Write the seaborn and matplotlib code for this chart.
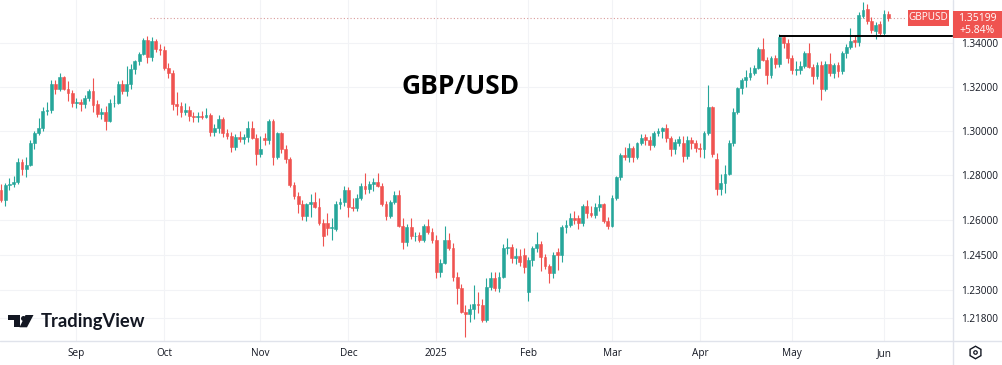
#
# GBP/USD daily candles, TradingView style
#

import numpy as np
import pandas as pd
import matplotlib
matplotlib.use("Agg")
import matplotlib.pyplot as plt
from matplotlib.lines import Line2D
from matplotlib.patches import Polygon, Rectangle
from matplotlib.ticker import NullLocator
import seaborn as sns

# daily (open, high, low, close), one small list per month
aug_2024 = [
    (1.2735, 1.2760, 1.2680, 1.2690), (1.2690, 1.2765, 1.2665, 1.2755),
    (1.2755, 1.2785, 1.2735, 1.2760), (1.2760, 1.2795, 1.2745, 1.2770),
    (1.2770, 1.2875, 1.2760, 1.2857), (1.2857, 1.2870, 1.2800, 1.2828),
    (1.2828, 1.2880, 1.2790, 1.2845), (1.2845, 1.2955, 1.2840, 1.2943),
    (1.2943, 1.3000, 1.2915, 1.2990), (1.2990, 1.3055, 1.2980, 1.3010),
    (1.3010, 1.3105, 1.3000, 1.3087), (1.3087, 1.3130, 1.3070, 1.3093),
    (1.3093, 1.3230, 1.3080, 1.3213), (1.3213, 1.3230, 1.3165, 1.3187),
    (1.3187, 1.3265, 1.3180, 1.3243), (1.3243, 1.3250, 1.3185, 1.3190),
    (1.3190, 1.3225, 1.3135, 1.3170), (1.3170, 1.3185, 1.3105, 1.3125),
]
sep_2024 = [
    (1.3125, 1.3150, 1.3100, 1.3130), (1.3130, 1.3145, 1.3090, 1.3120),
    (1.3120, 1.3160, 1.3100, 1.3150), (1.3150, 1.3190, 1.3135, 1.3180),
    (1.3180, 1.3238, 1.3085, 1.3115), (1.3120, 1.3140, 1.3060, 1.3076),
    (1.3076, 1.3100, 1.3050, 1.3082), (1.3082, 1.3110, 1.3002, 1.3045),
    (1.3045, 1.3145, 1.3040, 1.3125), (1.3125, 1.3160, 1.3105, 1.3127),
    (1.3127, 1.3225, 1.3120, 1.3214), (1.3214, 1.3230, 1.3165, 1.3180),
    (1.3180, 1.3297, 1.3155, 1.3210), (1.3210, 1.3305, 1.3190, 1.3280),
    (1.3280, 1.3325, 1.3260, 1.3320), (1.3320, 1.3360, 1.3300, 1.3350),
    (1.3350, 1.3425, 1.3345, 1.3415), (1.3415, 1.3434, 1.3310, 1.3335),
    (1.3335, 1.3430, 1.3320, 1.3410), (1.3410, 1.3420, 1.3360, 1.3375),
    (1.3375, 1.3395, 1.3345, 1.3370),
]
oct_2024 = [
    (1.3370, 1.3390, 1.3275, 1.3285), (1.3285, 1.3310, 1.3240, 1.3265),
    (1.3265, 1.3275, 1.3095, 1.3120), (1.3120, 1.3175, 1.3070, 1.3110),
    (1.3110, 1.3130, 1.3060, 1.3085), (1.3085, 1.3125, 1.3070, 1.3095),
    (1.3095, 1.3110, 1.3045, 1.3065), (1.3065, 1.3085, 1.3040, 1.3060),
    (1.3060, 1.3085, 1.3040, 1.3068), (1.3068, 1.3090, 1.3050, 1.3060),
    (1.3060, 1.3100, 1.3055, 1.3070), (1.3070, 1.3080, 1.2975, 1.2995),
    (1.2995, 1.3030, 1.2975, 1.3010), (1.3010, 1.3070, 1.2990, 1.3050),
    (1.3050, 1.3060, 1.2970, 1.2990), (1.2990, 1.3005, 1.2960, 1.2975),
    (1.2975, 1.2995, 1.2905, 1.2925), (1.2925, 1.2985, 1.2910, 1.2970),
    (1.2970, 1.3000, 1.2950, 1.2960), (1.2960, 1.2985, 1.2940, 1.2970),
    (1.2970, 1.3045, 1.2950, 1.3010), (1.3010, 1.3045, 1.2960, 1.2965),
    (1.2965, 1.2985, 1.2845, 1.2895),
]
nov_2024 = [
    (1.2895, 1.2975, 1.2880, 1.2915), (1.2965, 1.2990, 1.2935, 1.2955),
    (1.2955, 1.3050, 1.2940, 1.3045), (1.3045, 1.3050, 1.2845, 1.2880),
    (1.2880, 1.2995, 1.2870, 1.2990), (1.2990, 1.2995, 1.2900, 1.2915),
    (1.2915, 1.2935, 1.2855, 1.2870), (1.2870, 1.2880, 1.2745, 1.2755),
    (1.2755, 1.2770, 1.2695, 1.2705), (1.2705, 1.2725, 1.2630, 1.2670),
    (1.2670, 1.2690, 1.2600, 1.2620), (1.2620, 1.2675, 1.2595, 1.2670),
    (1.2670, 1.2715, 1.2615, 1.2680), (1.2680, 1.2725, 1.2655, 1.2660),
    (1.2660, 1.2700, 1.2580, 1.2590), (1.2590, 1.2605, 1.2487, 1.2530),
    (1.2590, 1.2630, 1.2535, 1.2565), (1.2565, 1.2610, 1.2515, 1.2570),
    (1.2560, 1.2685, 1.2555, 1.2670), (1.2670, 1.2700, 1.2650, 1.2680),
    (1.2680, 1.2750, 1.2665, 1.2735),
]
dec_2024 = [
    (1.2735, 1.2745, 1.2615, 1.2660), (1.2660, 1.2700, 1.2640, 1.2655),
    (1.2655, 1.2715, 1.2640, 1.2700), (1.2700, 1.2765, 1.2690, 1.2750),
    (1.2750, 1.2811, 1.2715, 1.2740), (1.2740, 1.2775, 1.2720, 1.2760),
    (1.2760, 1.2785, 1.2730, 1.2768), (1.2768, 1.2810, 1.2745, 1.2750),
    (1.2750, 1.2765, 1.2665, 1.2670), (1.2670, 1.2685, 1.2600, 1.2620),
    (1.2620, 1.2690, 1.2610, 1.2680), (1.2680, 1.2730, 1.2670, 1.2710),
    (1.2710, 1.2735, 1.2570, 1.2575), (1.2575, 1.2610, 1.2475, 1.2505),
    (1.2505, 1.2585, 1.2490, 1.2570), (1.2570, 1.2610, 1.2520, 1.2530),
    (1.2530, 1.2550, 1.2510, 1.2530), (1.2535, 1.2550, 1.2505, 1.2515),
    (1.2515, 1.2585, 1.2505, 1.2575), (1.2575, 1.2605, 1.2540, 1.2550),
    (1.2550, 1.2565, 1.2500, 1.2515),
]
jan_2025 = [
    (1.2515, 1.2535, 1.2350, 1.2375), (1.2375, 1.2430, 1.2355, 1.2415),
    (1.2415, 1.2575, 1.2410, 1.2515), (1.2515, 1.2545, 1.2470, 1.2480),
    (1.2480, 1.2500, 1.2335, 1.2355), (1.2355, 1.2375, 1.2240, 1.2305),
    (1.2305, 1.2325, 1.2200, 1.2205), (1.2205, 1.2235, 1.2100, 1.2195),
    (1.2195, 1.2240, 1.2160, 1.2215), (1.2215, 1.2320, 1.2175, 1.2240),
    (1.2240, 1.2290, 1.2200, 1.2235), (1.2235, 1.2260, 1.2160, 1.2170),
    (1.2170, 1.2350, 1.2160, 1.2310), (1.2310, 1.2375, 1.2300, 1.2350),
    (1.2350, 1.2375, 1.2295, 1.2305), (1.2305, 1.2375, 1.2290, 1.2355),
    (1.2355, 1.2495, 1.2350, 1.2480), (1.2480, 1.2523, 1.2455, 1.2485),
    (1.2485, 1.2495, 1.2415, 1.2435), (1.2435, 1.2480, 1.2410, 1.2445),
    (1.2445, 1.2475, 1.2400, 1.2420), (1.2450, 1.2480, 1.2370, 1.2395),
]
feb_2025 = [
    (1.2290, 1.2440, 1.2250, 1.2425), (1.2425, 1.2490, 1.2400, 1.2480),
    (1.2480, 1.2550, 1.2460, 1.2495), (1.2495, 1.2510, 1.2380, 1.2440),
    (1.2440, 1.2455, 1.2390, 1.2400), (1.2400, 1.2410, 1.2330, 1.2370),
    (1.2370, 1.2460, 1.2350, 1.2450), (1.2460, 1.2480, 1.2385, 1.2450),
    (1.2450, 1.2580, 1.2420, 1.2570), (1.2570, 1.2600, 1.2545, 1.2580),
    (1.2580, 1.2630, 1.2570, 1.2610), (1.2610, 1.2640, 1.2585, 1.2600),
    (1.2610, 1.2625, 1.2560, 1.2590), (1.2590, 1.2670, 1.2575, 1.2665),
    (1.2665, 1.2690, 1.2610, 1.2630), (1.2630, 1.2665, 1.2615, 1.2625),
    (1.2625, 1.2675, 1.2610, 1.2660), (1.2660, 1.2710, 1.2640, 1.2670),
    (1.2670, 1.2675, 1.2590, 1.2595), (1.2595, 1.2615, 1.2560, 1.2575),
]
mar_2025 = [
    (1.2575, 1.2710, 1.2570, 1.2700), (1.2700, 1.2795, 1.2690, 1.2790),
    (1.2790, 1.2900, 1.2780, 1.2890), (1.2890, 1.2925, 1.2865, 1.2880),
    (1.2880, 1.2945, 1.2860, 1.2920), (1.2920, 1.2930, 1.2860, 1.2880),
    (1.2880, 1.2950, 1.2870, 1.2945), (1.2945, 1.2985, 1.2935, 1.2965),
    (1.2970, 1.2985, 1.2935, 1.2955), (1.2955, 1.2975, 1.2910, 1.2935),
    (1.2935, 1.3000, 1.2925, 1.2990), (1.2990, 1.3010, 1.2975, 1.3000),
    (1.3000, 1.3015, 1.2965, 1.3010), (1.3010, 1.3030, 1.2950, 1.2965),
    (1.2965, 1.2975, 1.2885, 1.2915), (1.2915, 1.2960, 1.2895, 1.2950),
    (1.2945, 1.2975, 1.2930, 1.2960), (1.2945, 1.2975, 1.2860, 1.2885),
    (1.2885, 1.2975, 1.2870, 1.2955), (1.2955, 1.2970, 1.2915, 1.2945),
    (1.2945, 1.2955, 1.2905, 1.2920),
]
apr_2025 = [
    (1.2920, 1.2945, 1.2880, 1.2915), (1.2915, 1.3000, 1.2875, 1.2990),
    (1.2990, 1.3207, 1.2980, 1.3105), (1.3105, 1.3110, 1.2880, 1.2895),
    (1.2870, 1.2900, 1.2710, 1.2740), (1.2740, 1.2805, 1.2710, 1.2765),
    (1.2765, 1.2845, 1.2720, 1.2805), (1.2805, 1.2955, 1.2800, 1.2945),
    (1.2945, 1.3100, 1.2930, 1.3085), (1.3085, 1.3200, 1.3075, 1.3195),
    (1.3195, 1.3240, 1.3165, 1.3230), (1.3230, 1.3275, 1.3200, 1.3245),
    (1.3245, 1.3290, 1.3230, 1.3265), (1.3265, 1.3300, 1.3255, 1.3285),
    (1.3285, 1.3385, 1.3280, 1.3375), (1.3375, 1.3425, 1.3320, 1.3325),
    (1.3325, 1.3335, 1.3210, 1.3255), (1.3255, 1.3340, 1.3240, 1.3330),
    (1.3330, 1.3345, 1.3285, 1.3305), (1.3305, 1.3445, 1.3290, 1.3430),
    (1.3430, 1.3440, 1.3380, 1.3400), (1.3400, 1.3420, 1.3310, 1.3330),
]
may_2025 = [
    (1.3330, 1.3345, 1.3260, 1.3275), (1.3275, 1.3320, 1.3255, 1.3280),
    (1.3275, 1.3320, 1.3260, 1.3295), (1.3295, 1.3365, 1.3285, 1.3355),
    (1.3355, 1.3400, 1.3285, 1.3290), (1.3290, 1.3305, 1.3210, 1.3250),
    (1.3250, 1.3315, 1.3235, 1.3300), (1.3300, 1.3320, 1.3140, 1.3190),
    (1.3190, 1.3320, 1.3180, 1.3305), (1.3305, 1.3355, 1.3250, 1.3265),
    (1.3265, 1.3310, 1.3240, 1.3300), (1.3300, 1.3315, 1.3245, 1.3270),
    (1.3270, 1.3365, 1.3260, 1.3355), (1.3355, 1.3395, 1.3330, 1.3385),
    (1.3385, 1.3470, 1.3375, 1.3410), (1.3415, 1.3440, 1.3385, 1.3405),
    (1.3405, 1.3545, 1.3390, 1.3535), (1.3530, 1.3593, 1.3520, 1.3555),
    (1.3560, 1.3585, 1.3490, 1.3505), (1.3505, 1.3525, 1.3450, 1.3465),
    (1.3460, 1.3500, 1.3420, 1.3485), (1.3490, 1.3505, 1.3440, 1.3450),
]
jun_2025 = [
    (1.3450, 1.3555, 1.3440, 1.3540), (1.3540, 1.3550, 1.3505, 1.3520),
]

# days with no candle on the chart
holidays = ["2024-12-25", "2025-01-01"]

price_ticks = [1.218, 1.23, 1.245, 1.26, 1.28, 1.30, 1.32, 1.34]
last_price = 1.35199
last_change = "+5.84%"
resistance = 1.3433

UP = "#26a69a"
DOWN = "#ef5350"
TEXT = "#131722"
GRID = "#f2f3f6"
BORDER = "#e0e3eb"

W, H = 1002, 365
def fx(px): return px / W
def fy(py): return 1 - py / H

sns.set_theme(style="white")
plt.rcParams['font.family'] = ['Open Sans', 'DejaVu Sans']

ohlc = np.array(aug_2024 + sep_2024 + oct_2024 + nov_2024 + dec_2024 + jan_2025
                + feb_2025 + mar_2025 + apr_2025 + may_2025 + jun_2025)
dates = pd.bdate_range("2024-08-07", "2025-06-03")
dates = dates[~dates.isin(pd.to_datetime(holidays))]
df = pd.DataFrame(ohlc, columns=["open", "high", "low", "close"], index=dates)
df["x"] = np.arange(len(df))
colors = np.where(df["close"] >= df["open"], UP, DOWN)

fig = plt.figure(figsize=(W / 100, H / 100), dpi=100)
fig.patch.set_facecolor("white")
ax = fig.add_axes([0, fy(340.7), fx(953), 340.7 / H])
ax.set_facecolor("white")

# candles
ax.vlines(df["x"], df["low"], df["high"], colors=colors, lw=0.8, zorder=2)
ax.bar(df["x"], (df["close"] - df["open"]).abs(), bottom=df[["open", "close"]].min(axis=1),
       width=0.68, color=colors, edgecolor=colors, linewidth=0.4, zorder=3)

ax.set_yscale("log")
ax.set_ylim(1.2083, 1.3604)
ax.set_yticks(price_ticks)
ax.set_yticklabels(["{:.5f}".format(p) for p in price_ticks])
ax.yaxis.set_minor_locator(NullLocator())
ax.yaxis.tick_right()
ax.tick_params(axis="y", length=0, pad=6, labelsize=7.2, labelcolor=TEXT)

# month ticks at the first candle of each month
firsts = df.groupby([df.index.year, df.index.month])["x"].first().iloc[1:]
month_labels = [str(y) if m == 1 else pd.Timestamp(y, m, 1).strftime("%b") for y, m in firsts.index]
ax.set_xticks(firsts.values)
ax.set_xticklabels(month_labels)
ax.tick_params(axis="x", length=0, pad=5, labelsize=7.2, labelcolor=TEXT)
ax.set_xlim(-0.24, 227.5)

ax.grid(True, color=GRID, lw=0.8)
ax.set_axisbelow(True)
for s in ax.spines.values():
    s.set_visible(False)

# price line and drawn level
ax.hlines(last_price, 35.6, 216.2, colors="#d99a9a", lw=0.8, linestyles=(0, (1, 2)), zorder=1)
ax.hlines(resistance, 186, 227.5, colors="black", lw=1.4, zorder=4)

# title
fig.text(fx(461), fy(87), "GBP/USD", ha="center", va="center", fontsize=19,
         fontweight="bold", color="black")

# label boxes
fig.add_artist(Rectangle((fx(908), fy(25.5)), fx(949) - fx(908), 15 / H,
                         transform=fig.transFigure, facecolor=DOWN, edgecolor="none", zorder=10))
fig.text(fx(928.5), fy(18), "GBPUSD", ha="center", va="center", fontsize=7.2, color="white", zorder=11)
fig.add_artist(Rectangle((fx(953), fy(38)), fx(1002) - fx(953), 27.5 / H,
                         transform=fig.transFigure, facecolor=DOWN, edgecolor="none", zorder=10))
fig.text(fx(977.5), fy(18.5), "{:.5f}".format(last_price), ha="center", va="center", fontsize=7.5,
         color="white", zorder=11)
fig.text(fx(977.5), fy(30.5), last_change, ha="center", va="center", fontsize=7.5, color="white", zorder=11)

# borders of the price and time scales
fig.add_artist(Line2D([0, 1], [fy(340.7), fy(340.7)], color=BORDER, lw=1, transform=fig.transFigure))
fig.add_artist(Line2D([fx(953), fx(953)], [0, 1], color=BORDER, lw=1, transform=fig.transFigure))

# settings icon
fig.add_artist(Line2D([fx(975)], [fy(352)], marker="h", ms=9, mfc="none", mec=TEXT, mew=1,
                      transform=fig.transFigure))
fig.add_artist(Line2D([fx(975)], [fy(352)], marker="o", ms=2.5, mfc="none", mec=TEXT, mew=0.9,
                      transform=fig.transFigure))

# TradingView logo
def px_poly(pts):
    return Polygon([(fx(a), fy(b)) for a, b in pts], closed=True, transform=fig.transFigure,
                   facecolor=TEXT, edgecolor="none")
fig.add_artist(px_poly([(8.3, 315), (20, 315), (20, 327.3), (13.5, 327.3), (13.5, 320.3), (8.3, 320.3)]))
fig.add_artist(px_poly([(25.5, 315), (33.5, 315), (27, 327.3), (19.5, 327.3)]))
fig.add_artist(Line2D([fx(22.8)], [fy(317.6)], marker="o", ms=3.6, mfc=TEXT, mec="none",
                      transform=fig.transFigure))
fig.text(fx(41), fy(321), "TradingView", ha="left", va="center", fontsize=13.2,
         fontweight="bold", color=TEXT, family=["Lato", "DejaVu Sans"])

fig.savefig("out.png", dpi=100, facecolor="white")
